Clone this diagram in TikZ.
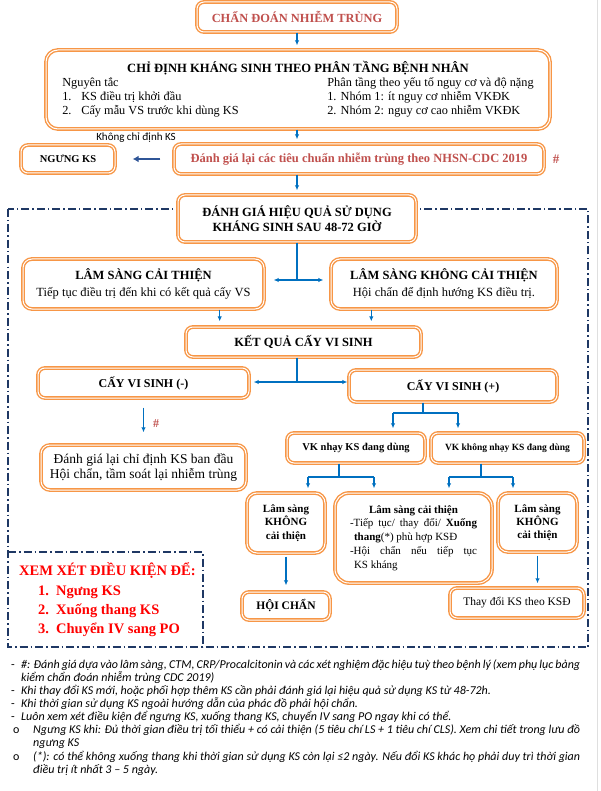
\documentclass[tikz,border=0pt]{standalone}
\usepackage{fontspec}
\setmainfont{Liberation Serif}
\newfontfamily\notefont{Carlito}
\usetikzlibrary{arrows.meta,calc}

\definecolor{boxorange}{HTML}{F79646}
\definecolor{arrowblue}{HTML}{0070C0}
\definecolor{darkarrow}{HTML}{2F5597}
\definecolor{framenavy}{HTML}{1F3864}
\definecolor{titlered}{HTML}{C0504D}
\definecolor{alertred}{HTML}{FF0000}

\tikzset{
  box/.style={draw=boxorange, double=white, double distance=1pt, line width=1.4pt,
    rounded corners=7pt, fill=white, align=center, inner sep=2pt},
  bline/.style={draw=arrowblue, line width=1.3pt},
  barrow/.style={bline, -{Latex[length=5pt,width=4.5pt]}, shorten >=4pt},
  dbarrow/.style={bline, {Latex[length=5pt,width=4.5pt]}-{Latex[length=5pt,width=4.5pt]}},
  frame/.style={draw=framenavy, line width=1.1pt, dash pattern=on 8pt off 3pt on 1.5pt off 3pt},
  note/.style={anchor=base west, inner sep=0pt, font=\notefont\itshape\fontsize{12}{13}\selectfont},
  redtext/.style={anchor=base west, inner sep=0pt, text=alertred, font=\bfseries\fontsize{14.5}{17}\selectfont},
}

\begin{document}
\begin{tikzpicture}[x=1pt,y=-1pt]
\useasboundingbox (0,0) rectangle (600,791);
\draw[gray!25, line width=1pt] (597,0) -- (597,791);

% khung danh gia
\draw[frame] (8,209) rectangle (588,647);
\draw[frame] (8,552) -- (203,552) -- (203,647);

\node[box, minimum width=200, minimum height=30, text=titlered, font=\bfseries\fontsize{12.4}{14}\selectfont] (chandoan) at (297,17) {CHẨN ĐOÁN NHIỄM TRÙNG};

\node[box, minimum width=504, minimum height=79, rounded corners=12pt, font=\fontsize{12.3}{14}\selectfont] (chidinh) at (298,89.5) {%
  \begin{tabular}{@{}p{265pt}@{}l@{}}
  \multicolumn{2}{@{}c@{}}{\fontsize{12.6}{14}\selectfont\textbf{CHỈ ĐỊNH KHÁNG SINH THEO PHÂN TẦNG BỆNH NHÂN}}\\
  Nguyên tắc & Phân tầng theo yếu tố nguy cơ và độ nặng\\
  \makebox[19pt][l]{1.}KS điều trị khởi đầu & 1. Nhóm 1: ít nguy cơ nhiễm VKĐK\\
  \makebox[19pt][l]{2.}Cấy mẫu VS trước khi dùng KS & 2. Nhóm 2: nguy cơ cao nhiễm VKĐK
  \end{tabular}};

\node[box, minimum width=370, minimum height=30, text=titlered, font=\bfseries\fontsize{12.5}{14}\selectfont] (danhgia) at (359,159) {Đánh giá lại các tiêu chuẩn nhiễm trùng theo NHSN-CDC 2019};
\node[text=titlered, font=\bfseries\fontsize{13}{15}\selectfont] (hash1) at (556,159) {\#};
\node[box, minimum width=94, minimum height=28, font=\bfseries\fontsize{10.5}{12}\selectfont] (ngung) at (68,159) {NGƯNG KS};
\node[font=\notefont\fontsize{11}{13}\selectfont] (khongcd) at (136,138) {Không chỉ định KS};

\node[box, minimum width=238, minimum height=47, font=\bfseries\fontsize{12.5}{15}\selectfont] (hieuqua) at (297,218.5) {ĐÁNH GIÁ HIỆU QUẢ SỬ DỤNG\\KHÁNG SINH SAU 48-72 GIỜ};

\node[box, minimum width=241, minimum height=50, rounded corners=9pt, font=\fontsize{12.5}{17}\selectfont] (lsct) at (143.5,284) {\textbf{LÂM SÀNG CẢI THIỆN}\\Tiếp tục điều trị đến khi có kết quả cấy VS};
\node[box, minimum width=226, minimum height=50, rounded corners=9pt, font=\fontsize{12.5}{17}\selectfont] (lskct) at (444,284) {\textbf{LÂM SÀNG KHÔNG CẢI THIỆN}\\Hội chẩn để định hướng KS điều trị.};

\node[box, minimum width=235, minimum height=30, font=\bfseries\fontsize{12.5}{14}\selectfont] (ketqua) at (303.5,342) {KẾT QUẢ CẤY VI SINH};

\node[box, minimum width=211, minimum height=30, font=\bfseries\fontsize{12}{14}\selectfont] (cvsam) at (143.5,383) {CẤY VI SINH (-)};
\node[box, minimum width=208, minimum height=32, font=\bfseries\fontsize{12}{14}\selectfont] (cvsduong) at (453,386) {CẤY VI SINH (+)};

\node[box, minimum width=205, minimum height=45, rounded corners=9pt, font=\fontsize{13.5}{15}\selectfont] (danhgialai) at (143.5,467.5) {Đánh giá lại chỉ định KS ban đầu\\Hội chẩn, tầm soát lại nhiễm trùng};
\node[text=titlered, font=\bfseries\fontsize{12}{14}\selectfont] (hash2) at (156,424) {\#};

\node[box, minimum width=138, minimum height=30, font=\bfseries\fontsize{10.5}{12}\selectfont] (vknhay) at (356,448) {VK nhạy KS đang dùng};
\node[box, minimum width=153, minimum height=30, font=\bfseries\fontsize{9.5}{11}\selectfont] (vkkhong) at (507.5,448) {VK không nhạy KS đang dùng};

\node[box, minimum width=78, minimum height=60, rounded corners=10pt, font=\bfseries\fontsize{11}{13.3}\selectfont] (lskhong1) at (286,523) {Lâm sàng\\KHÔNG\\cải thiện};
\node[box, minimum width=157, minimum height=90, rounded corners=14pt, font=\fontsize{11}{13.75}\selectfont] (lscaithien) at (413.5,538) {%
  \textbf{Lâm sàng cải thiện}\\
  \makebox[127pt][s]{-Tiếp tục/ thay đổi/ \textbf{Xuống}}\\
  \makebox[127pt][l]{\hspace{4pt}\textbf{thang}(*) phù hợp KSĐ}\\
  \makebox[127pt][s]{-Hội chẩn nếu tiếp tục}\\
  \makebox[127pt][l]{\hspace{4pt}KS kháng}};
\node[box, minimum width=79, minimum height=59, rounded corners=10pt, font=\bfseries\fontsize{11}{13.3}\selectfont] (lskhong2) at (537.5,522.5) {Lâm sàng\\KHÔNG\\cải thiện};

\node[box, minimum width=88, minimum height=28, font=\bfseries\fontsize{11.5}{13}\selectfont] (hoichan) at (286,606) {HỘI CHẨN};
\node[box, minimum width=134, minimum height=30, font=\fontsize{11.5}{13}\selectfont] (thaydoi) at (517,603) {Thay đổi KS theo KSĐ};

% ket noi
\draw[barrow] (chandoan.south) -- (chandoan.south |- chidinh.north);
\draw[barrow] (chandoan.south |- chidinh.south) -- (chandoan.south |- danhgia.north);
\draw[barrow] (chandoan.south |- danhgia.south) -- (hieuqua.north);
\draw[draw=darkarrow, line width=2.5pt, -{Latex[length=6pt,width=7pt]}, shorten <=13pt, shorten >=17pt] (danhgia.west) -- (ngung.east);

\coordinate (j1) at (297,280);
\draw[bline] (hieuqua.south) -- (j1);
\draw[dbarrow, shorten <=9pt, shorten >=7pt] (lsct.east |- j1) -- (lskct.west |- j1);
\draw[barrow, shorten >=5pt] ([xshift=-45pt]lsct.south east) -- ([xshift=-45pt]lsct.south east |- ketqua.north);
\draw[barrow, shorten >=5pt] ([xshift=41pt]lskct.south west) -- ([xshift=41pt]lskct.south west |- ketqua.north);

\coordinate (j2) at (297,382);
\draw[bline] (j2 |- ketqua.south) -- (j2);
\draw[dbarrow, shorten <=4pt, shorten >=1pt] (cvsam.east |- j2) -- (cvsduong.west |- j2);
\draw[barrow, shorten <=9pt, shorten >=12pt] (cvsam.south) -- (danhgialai.north);

\coordinate (j3) at (423,413);
\coordinate (j3l) at (393,413);
\coordinate (j3r) at (458,413);
\draw[bline] (j3 |- cvsduong.south) -- (j3);
\draw[bline] (j3l) -- (j3r);
\draw[barrow] (j3l) -- (j3l |- vknhay.north);
\draw[barrow] (j3r) -- (j3r |- vkkhong.north);

\coordinate (j4) at (339,477);
\coordinate (j4l) at (308,477);
\coordinate (j4r) at (374,477);
\draw[bline] (j4 |- vknhay.south) -- (j4);
\draw[bline] (j4l) -- (j4r);
\draw[barrow] (j4l) -- (j4l |- lskhong1.north);
\draw[barrow] (j4r) -- (j4r |- lscaithien.north);

\coordinate (j5) at (481,477);
\coordinate (j5l) at (449,477);
\coordinate (j5r) at (513,477);
\draw[bline] (j5 |- vkkhong.south) -- (j5);
\draw[bline] (j5l) -- (j5r);
\draw[barrow] (j5l) -- (j5l |- lscaithien.north);
\draw[barrow] (j5r) -- (j5r |- lskhong2.north);

\draw[barrow, shorten <=3pt, shorten >=6pt] (lskhong1.south) -- (lskhong1.south |- hoichan.north);
\draw[barrow, shorten <=3pt] (lskhong2.south) -- (lskhong2.south |- thaydoi.north);

% dieu kien
\node[redtext] (xemxet) at (19,575.5) {XEM XÉT ĐIỀU KIỆN ĐỂ:};
\node[redtext] (dk1) at (38,595) {\makebox[18pt][l]{1.}Ngưng KS};
\node[redtext] (dk2) at (38,614) {\makebox[18pt][l]{2.}Xuống thang KS};
\node[redtext] (dk3) at (38,633) {\makebox[18pt][l]{3.}Chuyển IV sang PO};

% ghi chu
\node[note] (ghichu1) at (11,668) {\makebox[10pt][l]{\upshape -}\makebox[559pt][s]{\#: Đánh giá dựa vào lâm sàng, CTM, CRP/Procalcitonin và các xét nghiệm đặc hiệu tuỳ theo bệnh lý (xem phụ lục bảng}};
\node[note] (ghichu2) at (21,681) {kiểm chẩn đoán nhiễm trùng CDC 2019)};
\node[note] (ghichu3) at (11,694) {\makebox[10pt][l]{\upshape -}Khi thay đổi KS mới, hoặc phối hợp thêm KS cần phải đánh giá lại hiệu quả sử dụng KS từ 48-72h.};
\node[note] (ghichu4) at (11,707) {\makebox[10pt][l]{\upshape -}Khi thời gian sử dụng KS ngoài hướng dẫn của phác đồ phải hội chẩn.};
\node[note] (ghichu5) at (11,720) {\makebox[10pt][l]{\upshape -}Luôn xem xét điều kiện để ngưng KS, xuống thang KS, chuyển IV sang PO ngay khi có thể.};
\node[note] (ghichu6) at (13,733.5) {\makebox[20pt][l]{\upshape o}\makebox[547pt][s]{Ngưng KS khi: Đủ thời gian điều trị tối thiểu + có cải thiện (5 tiêu chí LS + 1 tiêu chí CLS). Xem chi tiết trong lưu đồ}};
\node[note] (ghichu7) at (33,746.5) {ngưng KS};
\node[note] (ghichu8) at (13,760) {\makebox[20pt][l]{\upshape o}\makebox[547pt][s]{(*): có thể không xuống thang khi thời gian sử dụng KS còn lại ≤2 ngày. Nếu đổi KS khác họ phải duy trì thời gian}};
\node[note] (ghichu9) at (33,773) {điều trị ít nhất 3 – 5 ngày.};
\end{tikzpicture}
\end{document}
